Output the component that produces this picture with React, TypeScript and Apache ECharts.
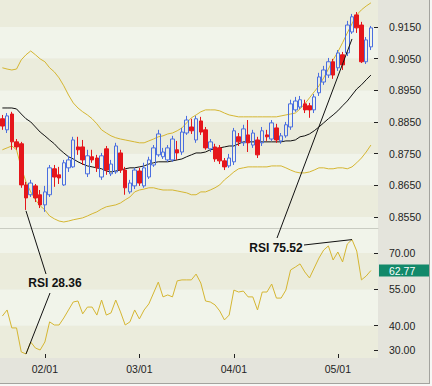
import React, { useEffect, useRef } from 'react';
import * as echarts from 'echarts';

// trading-day slots (last slot left empty as in the reference)
const categories: string[] = [
  'd0','d1','d2','d3','d4','d5','d6','d7','d8','d9','d10','d11','d12','d13','d14','d15','d16','d17','d18','d19',
  'd20','d21','d22','d23','d24','d25','d26','d27','d28','d29','d30','d31','d32','d33','d34','d35','d36','d37','d38','d39',
  'd40','d41','d42','d43','d44','d45','d46','d47','d48','d49','d50','d51','d52','d53','d54','d55','d56','d57','d58','d59',
  'd60','d61','d62','d63','d64','d65','d66','d67','d68','d69','d70','d71','d72','d73','d74','d75','d76','d77','d78','d79',
];
const xTickIndex = [9, 29, 49, 71];
const xTickLabels = ['02/01', '03/01', '04/01', '05/01'];

const opens = [
  0.8860, 0.8825, 0.8875, 0.8787, 0.8781, 0.8651, 0.8620, 0.8648, 0.8620, 0.8588,
  0.8620, 0.8702, 0.8683, 0.8651, 0.8705, 0.8708, 0.8771, 0.8771, 0.8686, 0.8740,
  0.8736, 0.8676, 0.8765, 0.8686, 0.8692, 0.8752, 0.8698, 0.8629, 0.8648, 0.8695,
  0.8648, 0.8676, 0.8714, 0.8746, 0.8740, 0.8730, 0.8730, 0.8762, 0.8755, 0.8815,
  0.8834, 0.8793, 0.8853, 0.8825, 0.8765, 0.8771, 0.8768, 0.8727, 0.8711, 0.8724,
  0.8803, 0.8784, 0.8809, 0.8777, 0.8793, 0.8784, 0.8809, 0.8796, 0.8831, 0.8790,
  0.8806, 0.8834, 0.8888, 0.8897, 0.8907, 0.8901, 0.8888, 0.8942, 0.8976, 0.8998,
  0.9040, 0.9021, 0.9062, 0.9068, 0.9134, 0.9188, 0.9156, 0.9040, 0.9087,
];
const closes = [
  0.8837, 0.8869, 0.8787, 0.8771, 0.8651, 0.8610, 0.8657, 0.8610, 0.8588, 0.8629,
  0.8705, 0.8676, 0.8673, 0.8721, 0.8730, 0.8793, 0.8762, 0.8730, 0.8743, 0.8730,
  0.8705, 0.8743, 0.8698, 0.8717, 0.8774, 0.8698, 0.8642, 0.8657, 0.8698, 0.8657,
  0.8705, 0.8730, 0.8768, 0.8812, 0.8755, 0.8768, 0.8796, 0.8752, 0.8818, 0.8856,
  0.8822, 0.8860, 0.8818, 0.8768, 0.8787, 0.8733, 0.8727, 0.8708, 0.8736, 0.8822,
  0.8787, 0.8828, 0.8784, 0.8815, 0.8746, 0.8822, 0.8803, 0.8847, 0.8793, 0.8806,
  0.8841, 0.8907, 0.8916, 0.8920, 0.8888, 0.8888, 0.8929, 0.8992, 0.9014, 0.9040,
  0.8998, 0.9068, 0.9030, 0.9156, 0.9182, 0.9147, 0.9040, 0.9109, 0.9147,
];
const lows = [
  0.8825, 0.8815, 0.8762, 0.8762, 0.8642, 0.8572, 0.8613, 0.8597, 0.8578, 0.8566,
  0.8613, 0.8645, 0.8654, 0.8648, 0.8692, 0.8705, 0.8746, 0.8714, 0.8676, 0.8721,
  0.8692, 0.8667, 0.8683, 0.8679, 0.8686, 0.8689, 0.8620, 0.8623, 0.8638, 0.8648,
  0.8642, 0.8670, 0.8708, 0.8740, 0.8733, 0.8724, 0.8724, 0.8730, 0.8746, 0.8809,
  0.8812, 0.8784, 0.8809, 0.8762, 0.8755, 0.8724, 0.8717, 0.8698, 0.8705, 0.8714,
  0.8774, 0.8774, 0.8755, 0.8768, 0.8736, 0.8774, 0.8790, 0.8790, 0.8784, 0.8781,
  0.8800, 0.8825, 0.8882, 0.8891, 0.8878, 0.8863, 0.8878, 0.8932, 0.8967, 0.8989,
  0.8986, 0.9011, 0.9014, 0.9058, 0.9128, 0.9131, 0.9036, 0.9033, 0.9077,
];
const highs = [
  0.8872, 0.8878, 0.8882, 0.8796, 0.8787, 0.8661, 0.8667, 0.8654, 0.8635, 0.8648,
  0.8714, 0.8714, 0.8708, 0.8730, 0.8743, 0.8803, 0.8803, 0.8793, 0.8762, 0.8762,
  0.8746, 0.8752, 0.8774, 0.8730, 0.8784, 0.8762, 0.8708, 0.8667, 0.8705, 0.8705,
  0.8721, 0.8740, 0.8777, 0.8825, 0.8768, 0.8777, 0.8806, 0.8790, 0.8831, 0.8869,
  0.8860, 0.8869, 0.8866, 0.8834, 0.8796, 0.8781, 0.8777, 0.8736, 0.8749, 0.8831,
  0.8815, 0.8841, 0.8856, 0.8825, 0.8803, 0.8834, 0.8825, 0.8856, 0.8844, 0.8815,
  0.8850, 0.8920, 0.8929, 0.8932, 0.8920, 0.8910, 0.8938, 0.9005, 0.9027, 0.9052,
  0.9049, 0.9077, 0.9071, 0.9169, 0.9191, 0.9197, 0.9166, 0.9118, 0.9153,
];
const maLine = [
  0.8894, 0.8894, 0.8894, 0.8891, 0.8875, 0.8860, 0.8850, 0.8834, 0.8818, 0.8806,
  0.8793, 0.8781, 0.8765, 0.8752, 0.8740, 0.8733, 0.8724, 0.8717, 0.8711, 0.8708,
  0.8705, 0.8702, 0.8695, 0.8692, 0.8695, 0.8698, 0.8702, 0.8705, 0.8705, 0.8708,
  0.8711, 0.8717, 0.8721, 0.8724, 0.8724, 0.8724, 0.8727, 0.8730, 0.8733, 0.8740,
  0.8746, 0.8752, 0.8752, 0.8755, 0.8762, 0.8765, 0.8768, 0.8771, 0.8774, 0.8774,
  0.8781, 0.8787, 0.8787, 0.8787, 0.8787, 0.8787, 0.8787, 0.8787, 0.8787, 0.8787,
  0.8790, 0.8790, 0.8793, 0.8803, 0.8806, 0.8812, 0.8822, 0.8834, 0.8847, 0.8860,
  0.8872, 0.8885, 0.8901, 0.8916, 0.8935, 0.8954, 0.8967, 0.8983, 0.8998,
];
const bbUpper = [
  0.9021, 0.9017, 0.9014, 0.9017, 0.9046, 0.9062, 0.9074, 0.9062, 0.9049, 0.9040,
  0.9021, 0.9008, 0.8989, 0.8964, 0.8935, 0.8910, 0.8894, 0.8882, 0.8872, 0.8860,
  0.8844, 0.8825, 0.8815, 0.8806, 0.8800, 0.8796, 0.8793, 0.8790, 0.8787, 0.8784,
  0.8784, 0.8790, 0.8796, 0.8803, 0.8806, 0.8812, 0.8815, 0.8822, 0.8831, 0.8847,
  0.8863, 0.8872, 0.8882, 0.8888, 0.8888, 0.8888, 0.8885, 0.8878, 0.8872, 0.8869,
  0.8866, 0.8866, 0.8866, 0.8866, 0.8866, 0.8866, 0.8866, 0.8866, 0.8866, 0.8869,
  0.8872, 0.8875, 0.8878, 0.8891, 0.8907, 0.8926, 0.8945, 0.8964, 0.8989, 0.9017,
  0.9046, 0.9071, 0.9100, 0.9131, 0.9160, 0.9188, 0.9204, 0.9216, 0.9226,
];
const bbLower = [
  0.8762, 0.8768, 0.8774, 0.8762, 0.8705, 0.8661, 0.8629, 0.8604, 0.8585, 0.8572,
  0.8553, 0.8544, 0.8537, 0.8534, 0.8537, 0.8541, 0.8544, 0.8547, 0.8553, 0.8560,
  0.8566, 0.8575, 0.8582, 0.8585, 0.8588, 0.8594, 0.8604, 0.8613, 0.8629, 0.8635,
  0.8638, 0.8642, 0.8642, 0.8638, 0.8635, 0.8635, 0.8635, 0.8632, 0.8629, 0.8626,
  0.8620, 0.8620, 0.8629, 0.8629, 0.8635, 0.8642, 0.8651, 0.8667, 0.8679, 0.8692,
  0.8702, 0.8705, 0.8708, 0.8708, 0.8708, 0.8708, 0.8708, 0.8711, 0.8711, 0.8711,
  0.8705, 0.8698, 0.8692, 0.8689, 0.8689, 0.8692, 0.8698, 0.8705, 0.8705, 0.8702,
  0.8702, 0.8705, 0.8705, 0.8702, 0.8708, 0.8721, 0.8736, 0.8755, 0.8777,
];
const rsi = [
  44.0, 46.5, 39.1, 39.1, 29.2, 28.36, 33.3, 30.8, 30.0, 33.3,
  41.6, 40.3, 40.3, 43.2, 46.5, 49.8, 50.2, 44.9, 47.7, 47.7,
  44.4, 50.6, 44.4, 45.3, 50.6, 45.7, 40.3, 41.6, 46.5, 42.8,
  46.5, 49.0, 53.5, 58.0, 51.9, 52.7, 51.9, 58.5, 58.9, 58.9,
  58.9, 61.3, 57.6, 50.2, 49.8, 48.6, 46.1, 42.4, 44.4, 54.7,
  53.9, 54.3, 51.9, 51.9, 46.5, 53.9, 53.9, 57.2, 51.4, 51.4,
  54.7, 63.0, 64.2, 65.5, 62.2, 59.7, 63.8, 67.9, 71.2, 72.9,
  67.1, 70.4, 66.3, 73.7, 75.52, 70.8, 58.9, 60.5, 62.77,
];

const priceTicks = [0.855, 0.865, 0.875, 0.885, 0.895, 0.905, 0.915];
const priceRange = [0.8515, 0.9235];
const rsiTicks = [30, 40, 55, 70];
const rsiRange = [26.7, 80.3];
// [low, high, shade] bands behind each pane (1 = beige, 0 = pale)
const priceBands = [
  [0.8515, 0.855, 0], [0.855, 0.865, 1], [0.865, 0.875, 0], [0.875, 0.885, 1],
  [0.885, 0.895, 0], [0.895, 0.905, 1], [0.905, 0.915, 0], [0.915, 0.9235, 1],
];
const rsiBands = [[26.7, 40, 1], [40, 55, 0], [55, 70, 1], [70, 80.3, 0]];

// annotations: label text, label centre (px), and links [label-side px, pane, data point]
const notes = [
  { text: 'RSI 28.36', at: [55, 283], links: [
    { from: [46, 274], grid: 0, to: [5, 0.8569] },
    { from: [50, 293], grid: 1, to: [5, 28.36] },
  ] },
  { text: 'RSI 75.52', at: [276, 248], links: [
    { from: [277, 238], grid: 0, to: [74, 0.9112] },
    { from: [304, 245], grid: 1, to: [74, 75.52] },
  ] },
];

const FONT = "'Liberation Sans', Arial, sans-serif";
const BEIGE = '#ebecdc';
const PALE = '#f1f4ea';
const GOLD = '#d5b632';
const RED = '#e5161b';
const BLUE = '#4a6ee0';

const bandSeries = (idx: number, bands: number[][]) => ({
  type: 'custom',
  xAxisIndex: idx,
  yAxisIndex: idx,
  z: 0,
  silent: true,
  data: bands.map((b) => [0, b[0], b[1], b[2]]),
  encode: { x: 0, y: [1, 2] },
  renderItem: (params: any, api: any) => {
    const cs = params.coordSys;
    const top = api.coord([0, api.value(2)])[1];
    const bot = api.coord([0, api.value(1)])[1];
    return {
      type: 'rect',
      shape: { x: cs.x, y: top, width: cs.width, height: bot - top },
      style: { fill: api.value(3) ? BEIGE : PALE },
      silent: true,
    };
  },
});

const isTick = (i: number) => xTickIndex.indexOf(i) >= 0;

export default function App() {
  const ref = useRef<HTMLDivElement>(null);
  useEffect(() => {
    if (!ref.current) return;
    const chart = echarts.init(ref.current, undefined, { renderer: 'svg' });
    const labelStyle = { color: '#1e1e1e', fontSize: 10.5, fontFamily: FONT };
    const option: any = {
      animation: false,
      backgroundColor: '#e4e4dc',
      grid: [
        { left: 0, top: 0, width: 378, height: 228 },
        { left: 0, top: 228, width: 378, height: 130 },
      ],
      xAxis: [
        {
          type: 'category', gridIndex: 0, data: categories, z: 5,
          axisLine: { show: true, lineStyle: { color: '#c9ccc2', width: 1 } },
          axisTick: { show: false }, axisLabel: { show: false }, splitLine: { show: false },
        },
        {
          type: 'category', gridIndex: 1, data: categories, z: 5,
          axisLine: { show: false },
          axisTick: { show: true, inside: true, length: 4, alignWithLabel: true, interval: isTick, lineStyle: { color: '#222' } },
          axisLabel: {
            ...labelStyle, margin: 5, interval: isTick,
            formatter: (_v: string, i: number) => { const k = xTickIndex.indexOf(i); return k >= 0 ? xTickLabels[k] : ''; },
          },
          splitLine: { show: false },
        },
      ],
      yAxis: [
        {
          type: 'value', gridIndex: 0, position: 'right', min: priceRange[0], max: priceRange[1], z: 5,
          axisLine: { show: false }, splitLine: { show: false },
          axisTick: { show: true, inside: true, length: 4, customValues: priceTicks, lineStyle: { color: '#222' } },
          axisLabel: { ...labelStyle, margin: 11, customValues: priceTicks, formatter: (v: number) => v.toFixed(4) },
        },
        {
          type: 'value', gridIndex: 1, position: 'right', min: rsiRange[0], max: rsiRange[1], z: 5,
          axisLine: { show: false }, splitLine: { show: false },
          axisTick: { show: true, inside: true, length: 4, customValues: rsiTicks, lineStyle: { color: '#222' } },
          axisLabel: { ...labelStyle, margin: 11, customValues: rsiTicks, formatter: (v: number) => v.toFixed(2) },
        },
      ],
      series: [
        bandSeries(0, priceBands),
        bandSeries(1, rsiBands),
        {
          type: 'line', xAxisIndex: 0, yAxisIndex: 0, data: bbUpper, showSymbol: false, z: 3,
          lineStyle: { color: GOLD, width: 1 },
        },
        {
          type: 'line', xAxisIndex: 0, yAxisIndex: 0, data: bbLower, showSymbol: false, z: 3,
          lineStyle: { color: GOLD, width: 1 },
        },
        {
          type: 'line', xAxisIndex: 0, yAxisIndex: 0, data: maLine, showSymbol: false, z: 3,
          lineStyle: { color: '#111', width: 1 },
        },
        {
          type: 'candlestick', xAxisIndex: 0, yAxisIndex: 0, barWidth: 4, z: 4,
          data: opens.map((o, i) => [o, closes[i], lows[i], highs[i]]),
          itemStyle: { color: 'rgba(255,255,255,0)', color0: RED, borderColor: BLUE, borderColor0: RED, borderWidth: 1 },
        },
        {
          type: 'line', xAxisIndex: 1, yAxisIndex: 1, data: rsi, showSymbol: false, z: 3,
          lineStyle: { color: GOLD, width: 1 },
        },
      ],
    };
    chart.setOption(option);

    const graphics: any[] = [
      { type: 'rect', shape: { x: 430, y: 0, width: 2, height: 386 }, style: { fill: '#f7f7f5' } },
      { type: 'rect', shape: { x: 0, y: 384, width: 432, height: 2 }, style: { fill: '#f7f7f5' } },
      { type: 'line', shape: { x1: 429.5, y1: 0, x2: 429.5, y2: 384 }, style: { stroke: '#a3a39e', lineWidth: 1 } },
      { type: 'line', shape: { x1: 0, y1: 383.5, x2: 430, y2: 383.5 }, style: { stroke: '#a3a39e', lineWidth: 1 } },
    ];
    notes.forEach((n) => {
      n.links.forEach((l) => {
        const p = chart.convertToPixel({ gridIndex: l.grid } as any, l.to as any) as any;
        graphics.push({
          type: 'line', z: 20,
          shape: { x1: l.from[0], y1: l.from[1], x2: p[0], y2: p[1] },
          style: { stroke: '#111', lineWidth: 1 },
        });
      });
      graphics.push({
        type: 'text', z: 21, x: n.at[0], y: n.at[1],
        style: {
          text: n.text, fill: '#111', font: `bold 12px ${FONT}`,
          align: 'center', verticalAlign: 'middle', textAlign: 'center', textVerticalAlign: 'middle',
        },
      });
    });
    const last = rsi[rsi.length - 1];
    const lp = chart.convertToPixel({ gridIndex: 1 } as any, [rsi.length - 1, last] as any) as any;
    graphics.push({ type: 'rect', z: 20, shape: { x: 379, y: lp[1] - 6, width: 50, height: 12 }, style: { fill: '#12896a' } });
    graphics.push({
      type: 'text', z: 21, x: 389, y: lp[1],
      style: {
        text: last.toFixed(2), fill: '#ffffff', font: `10.5px ${FONT}`,
        align: 'left', verticalAlign: 'middle', textAlign: 'left', textVerticalAlign: 'middle',
      },
    });
    chart.setOption({ graphic: graphics });
    return () => chart.dispose();
  }, []);
  return <div ref={ref} style={{ position: 'absolute', left: 0, top: 0, width: 432, height: 386 }} />;
}
